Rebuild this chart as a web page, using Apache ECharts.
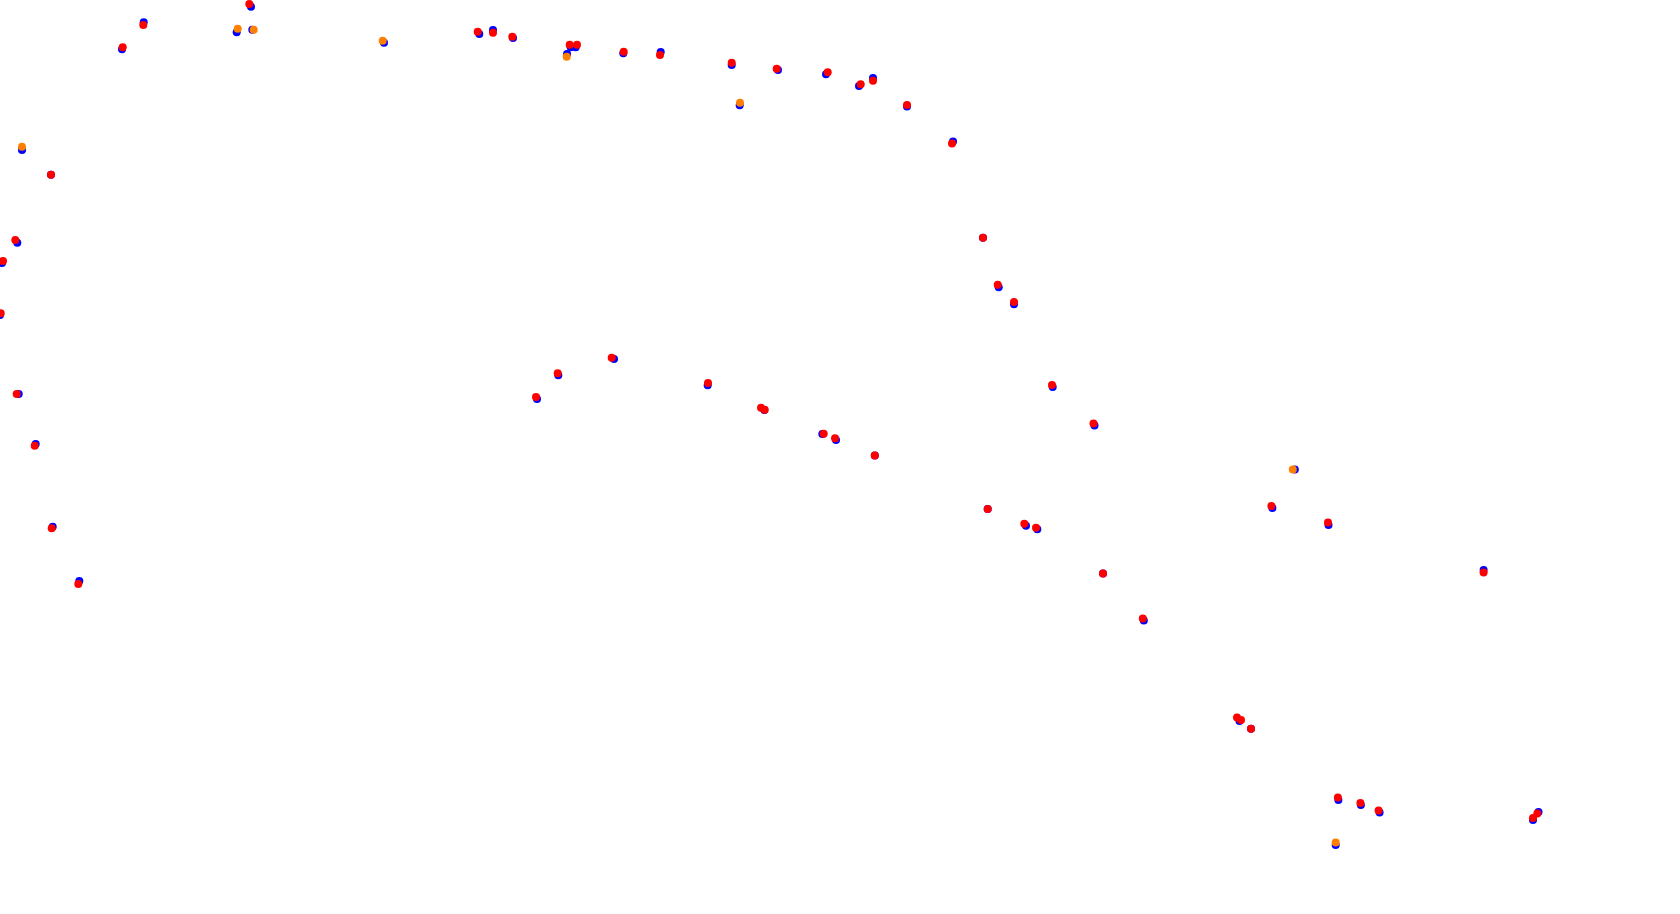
<!DOCTYPE html>
<html>
<head>
<meta charset="utf-8">
<script src="https://cdn.jsdelivr.net/npm/echarts@6/dist/echarts.min.js"></script>
<style>html,body{margin:0;padding:0;background:#fff;}#c{width:1680px;height:914px;}</style>
</head>
<body>
<div id="c"></div>
<script>
const bluePts = [
  [251,6.7],[143.7,22.3],[122,49.3],[236.7,32.3],[252.3,29.7],[22,150],[51,174.7],[17.3,242.7],
  [2,263],[0,315],[18.7,394],[35.7,444],[52.7,526.7],[79.3,581],[384,42.7],[479.3,34],[493,30],
  [513,38],[570.7,47.3],[575.7,47.3],[567,54],[623.3,53.3],[660.7,52],[731.7,65],[739.7,105.3],
  [778,70],[826,74.3],[859,86],[873,78],[907,106.5],[953,141.5],[983,237.7],[998.7,287.3],
  [1014,304.3],[1052.7,387],[1094.5,425.5],[537,399],[558.3,375.3],[614,359],[707.7,385.3],
  [764.3,410],[822.3,434],[836,440],[874.8,455.6],[987.7,509],[1026,525.7],[1037.3,529.3],
  [1103,573.5],[1143.8,620.5],[1239.5,721],[1251,728.7],[1272.4,508],[1294.8,469.5],[1328.5,525],
  [1483.6,570],[1338.4,800],[1360.9,805],[1379.6,812.5],[1335.7,845],[1538.5,812],[1533,820]
];
const orangePts = [
  [237.7,28.7],[253.7,29.7],[22,146.7],[382.7,40.7],[566.7,56.7],[740,102.7],[1292.8,469.5],[1335.7,842.6]
];
const redPts = [
  [249.3,4],[143.3,25],[122.7,47.3],[51,174.7],[15.3,240],[3,261],[0.7,313.3],[16.7,394],
  [34.7,445.7],[51.7,528.3],[78.3,584],[477.7,31.7],[493,32.7],[512.3,36.7],[569.7,44.7],
  [577,44.7],[623.7,51.7],[660,55],[731.7,62.7],[776.7,68.7],[827.7,72.3],[860.7,84.3],
  [873,80.7],[907,105],[952,143.6],[983,237.7],[997.7,284.7],[1014,302],[1052,385],
  [1093.5,423.5],[536,397],[557.7,373.3],[611.7,357.7],[708,383],[761,407.7],[764.7,409.7],
  [823.7,433.7],[835,438.3],[874.8,455.6],[987.7,509],[1024.3,523.7],[1036,527.7],[1103,573.5],
  [1142.8,618.5],[1237,717.5],[1241,720],[1251,728.7],[1271.4,506],[1328,522.5],[1483.6,572.5],
  [1337.9,797.5],[1360.4,803],[1378.6,810.5],[1533,818],[1537.3,813.6]
];
const chart = echarts.init(document.getElementById('c'));
chart.setOption({
  animation: false,
  backgroundColor: '#ffffff',
  grid: {left: 0, right: 0, top: 0, bottom: 0},
  xAxis: {type: 'value', min: 0, max: 1680, show: false},
  yAxis: {type: 'value', min: 0, max: 914, inverse: true, show: false},
  series: [
    {type: 'scatter', data: bluePts, symbolSize: 8, itemStyle: {color: '#0000ff', opacity: 1}, clip: false},
    {type: 'scatter', data: orangePts, symbolSize: 8, itemStyle: {color: '#ff8000', opacity: 1}, clip: false},
    {type: 'scatter', data: redPts, symbolSize: 8, itemStyle: {color: '#ff0000', opacity: 1}, clip: false}
  ]
});
</script>
</body>
</html>
